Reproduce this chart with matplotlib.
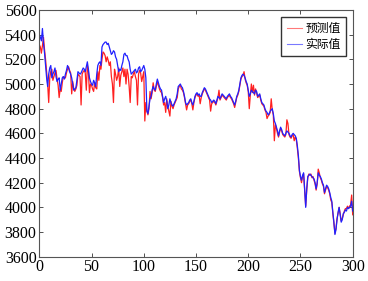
import matplotlib
matplotlib.use("Agg")
import matplotlib.pyplot as plt
import numpy as np

actual = [
5400, 5380, 5350, 5450, 5330, 5250, 5150, 5050, 4980, 5080,
5130, 5150, 5050, 5080, 5100, 5130, 5060, 5020, 5040, 5050,
4950, 5000, 5050, 5060, 5040, 5080, 5110, 5150, 5130, 5100,
5080, 5050, 5000, 4950, 4960, 4970, 5030, 5100, 5090, 5080,
5090, 5110, 5130, 5120, 5100, 5140, 5180, 5120, 5050, 5020,
5000, 4990, 5030, 5010, 4980, 5080, 5150, 5170, 5180, 5150,
5300, 5320, 5330, 5340, 5340, 5320, 5330, 5300, 5270, 5240,
5250, 5270, 5260, 5220, 5200, 5150, 5100, 5120, 5110, 5150,
5180, 5240, 5250, 5230, 5230, 5200, 5180, 5120, 5080, 5090,
5100, 5110, 5120, 5090, 5100, 5130, 5140, 5100, 5110, 5130,
5150, 5120, 5050, 4780, 4760, 4820, 4880, 4900, 4950, 4980,
4960, 4950, 5000, 5040, 5010, 4980, 4960, 4950, 4900, 4850,
4880, 4900, 4860, 4800, 4830, 4880, 4850, 4830, 4820, 4840,
4860, 4880, 4920, 4980, 4990, 5000, 4980, 4970, 4940, 4900,
4850, 4830, 4840, 4850, 4870, 4880, 4850, 4830, 4860, 4900,
4920, 4930, 4910, 4920, 4900, 4900, 4930, 4950, 4970, 4960,
4940, 4920, 4900, 4880, 4870, 4850, 4860, 4870, 4860, 4840,
4870, 4900, 4890, 4880, 4900, 4920, 4910, 4900, 4890, 4880,
4900, 4910, 4920, 4900, 4890, 4870, 4850, 4830, 4860, 4900,
4920, 4950, 5000, 5050, 5070, 5080, 5070, 5050, 5020, 5000,
4950, 4900, 4920, 4950, 4940, 4930, 4920, 4950, 4940, 4900,
4910, 4920, 4880, 4850, 4840, 4830, 4800, 4780, 4770, 4750,
4760, 4780, 4790, 4800, 4760, 4700, 4680, 4650, 4620, 4580,
4620, 4650, 4630, 4600, 4590, 4580, 4600, 4620, 4610, 4600,
4580, 4570, 4590, 4600, 4590, 4580, 4560, 4500, 4420, 4300,
4250, 4220, 4260, 4280, 4150, 4000, 4150, 4250, 4260, 4270,
4260, 4250, 4240, 4230, 4200, 4150, 4200, 4280, 4260, 4250,
4230, 4200, 4180, 4120, 4150, 4180, 4170, 4150, 4120, 4080,
4050, 3960, 3880, 3780, 3820, 3900, 3960, 4000, 3940, 3880,
3900, 3950, 3960, 3980, 3970, 4000, 3990, 4000, 4010, 4050,
3970]

predicted = [
5320, 5300, 5250, 5310, 5380, 5280, 5200, 5100, 5000, 4850,
5050, 5100, 5120, 5030, 5060, 5090, 5110, 5040, 4990, 4890,
4960, 4940, 5010, 5060, 5050, 5050, 5090, 5120, 5140, 5110,
5090, 4920, 5020, 4960, 4940, 4960, 4990, 5080, 5070, 5060,
4830, 5080, 5100, 5110, 5090, 4950, 5150, 5100, 4930, 5000,
4990, 4960, 4940, 5010, 4970, 4960, 5100, 5030, 5150, 5120,
5200, 5260, 5250, 5230, 5180, 5220, 5190, 5150, 5180, 5060,
5000, 4850, 5120, 5080, 5030, 5060, 5130, 4980, 5070, 5100,
5130, 5060, 5120, 5000, 5120, 5080, 4980, 4850, 5060, 5050,
5080, 5100, 5060, 5030, 4830, 5080, 5110, 5090, 5020, 5060,
5100, 4700, 4850, 4780, 4750, 4800, 4940, 4880, 4930, 5010,
4950, 4940, 4980, 5020, 4990, 4960, 4940, 4930, 4890, 4830,
4850, 4770, 4880, 4820, 4780, 4740, 4860, 4820, 4800, 4830,
4850, 4870, 4890, 4960, 4980, 4990, 4960, 4950, 4930, 4890,
4840, 4790, 4830, 4840, 4860, 4870, 4840, 4790, 4850, 4890,
4910, 4920, 4900, 4910, 4840, 4890, 4920, 4940, 4960, 4950,
4930, 4910, 4890, 4870, 4780, 4840, 4850, 4860, 4850, 4830,
4860, 4890, 4950, 4870, 4890, 4910, 4900, 4890, 4880, 4870,
4890, 4900, 4910, 4890, 4880, 4860, 4840, 4810, 4850, 4890,
4910, 4940, 4990, 5040, 5060, 5070, 5100, 5040, 5010, 4990,
4940, 4800, 4910, 5000, 4930, 4990, 4910, 4960, 4930, 4890,
4900, 4910, 4870, 4840, 4830, 4820, 4790, 4770, 4720, 4740,
4750, 4770, 4880, 4790, 4750, 4540, 4670, 4640, 4600, 4570,
4610, 4640, 4620, 4590, 4580, 4570, 4590, 4710, 4680, 4590,
4570, 4560, 4580, 4590, 4540, 4570, 4550, 4480, 4400, 4290,
4240, 4200, 4250, 4270, 4140, 4010, 4140, 4240, 4270, 4260,
4270, 4240, 4250, 4220, 4190, 4140, 4190, 4310, 4280, 4240,
4220, 4190, 4170, 4110, 4140, 4170, 4160, 4140, 4110, 4060,
4040, 3950, 3870, 3790, 3830, 3910, 3950, 4000, 3950, 3890,
3910, 3940, 3970, 3990, 3990, 4010, 3990, 4010, 4020, 4100,
3940]

labels = ["预测值", "实际值"]
xticks = [0, 50, 100, 150, 200, 250, 300]
yticks = [3600, 3800, 4000, 4200, 4400, 4600, 4800, 5000, 5200, 5400, 5600]

x = np.arange(len(actual))

fig = plt.figure(figsize=(3.68, 2.81), dpi=100)
ax = fig.add_axes([39.3/368, 1-256.7/281, (352.7-39.3)/368, (256.7-10)/281])
ax.plot(x, predicted, color="#ff2020", lw=0.9, label=labels[0])
ax.plot(x, actual, color="#2020ff", lw=0.9, label=labels[1])
ax.set_xlim(0, 300)
ax.set_ylim(3600, 5600)
ax.set_xticks(xticks)
ax.set_yticks(yticks)
ax.tick_params(direction="in", length=3, width=0.6, top=True, right=True,
               labelsize=11.5, pad=2, colors="#333333", labelcolor="black")
for lab in ax.get_xticklabels() + ax.get_yticklabels():
    lab.set_family("Liberation Serif")
for s in ax.spines.values():
    s.set_color("#555555")
    s.set_linewidth(0.8)

leg = ax.legend(loc="upper right", bbox_to_anchor=(346/368, 1-17/281),
                bbox_transform=fig.transFigure, prop={"family": ["Noto Sans CJK SC", "DejaVu Sans"], "size": 8.5},
                frameon=True, fancybox=False, handlelength=1.3, handletextpad=0.3,
                borderpad=0.45, labelspacing=0.2, borderaxespad=0)
leg.get_frame().set_edgecolor("black")
leg.get_frame().set_linewidth(1.0)
for h in leg.get_lines():
    h.set_linewidth(0.8)
    h.set_alpha(0.6)

fig.savefig("out.png", dpi=100)
